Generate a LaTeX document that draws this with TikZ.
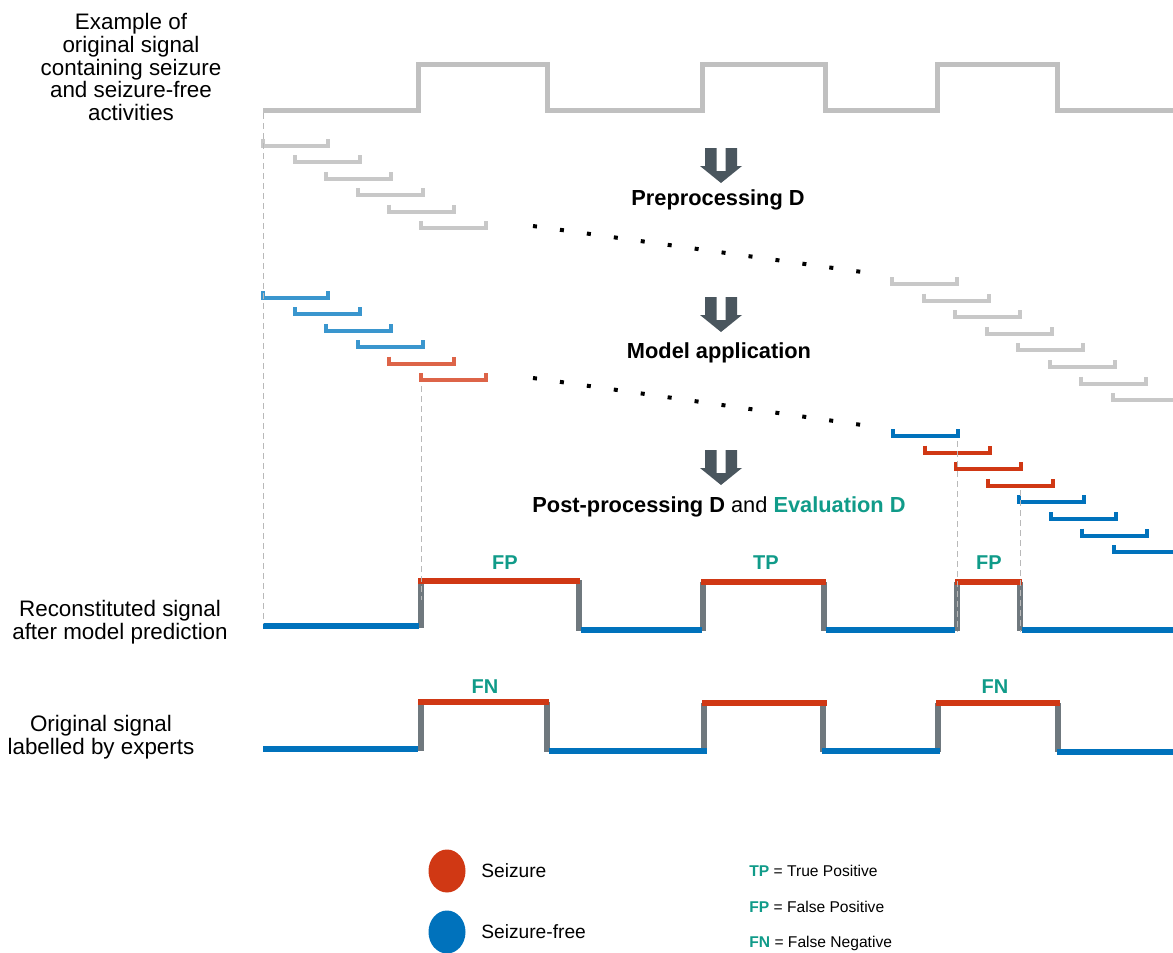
\documentclass[tikz,border=0pt]{standalone}
\usepackage{fontspec}
\setmainfont{Liberation Sans}
\usetikzlibrary{positioning, shapes.geometric}
\definecolor{sigGray}{RGB}{192,192,192}
\definecolor{winGray}{RGB}{200,200,200}
\definecolor{szRed}{RGB}{208,56,20}
\definecolor{sfBlue}{RGB}{0,114,188}
\definecolor{szRedL}{RGB}{221,100,72}
\definecolor{sfBlueL}{RGB}{58,150,206}
\definecolor{edgeGray}{RGB}{111,120,126}
\definecolor{arrowSlate}{RGB}{74,86,94}
\definecolor{evalTeal}{RGB}{16,155,137}

\begin{document}
\begin{tikzpicture}[
  x=0.5pt, y=-0.5pt,
  sidelbl/.style={align=center, font=\fontsize{11.2}{11.4}\selectfont},
  stagelbl/.style={font=\fontsize{10.9}{13}\selectfont\bfseries},
  outcome/.style={font=\fontsize{10}{12}\selectfont\bfseries, text=evalTeal},
  keytxt/.style={inner sep=0pt, font=\fontsize{9.6}{11}\selectfont},
  keylbl/.style={anchor=west, inner sep=0pt, font=\fontsize{7.8}{9}\selectfont},
  win/.style={draw=#1, line width=2pt},
  level/.style={draw=#1, line width=3pt},
  edge/.style={draw=edgeGray, line width=3pt},
  guide/.style={draw=gray!55, line width=0.5pt, dash pattern=on 3pt off 2pt},
  dots/.style={draw=black, line width=2pt, dash pattern=on 2pt off 11.6pt},
  dot/.style={ellipse, fill=#1, minimum width=18.5pt, minimum height=21.5pt, inner sep=0pt},
  pics/bigarrow/.style={code={
    \fill[arrowSlate] (-16,0) -- (-4.5,0) -- (-4.5,23) -- (4.5,23) -- (4.5,0) -- (16,0)
      -- (16,18) -- (21,18) -- (0,35) -- (-21,18) -- (-16,18) -- cycle;
  }}
]
\useasboundingbox (0,0) rectangle (1173,953);
\clip (0,0) rectangle (1173,953);

\node[sidelbl] (origtxt) at (131,67) {Example of\\original signal\\containing seizure\\and seizure-free\\activities};
\node[sidelbl] (predtxt) at (120,622) {Reconstituted signal\\after model prediction};
\node[sidelbl] (exptxt) at (101,737) {Original signal\\labelled by experts};

\draw[level=sigGray, line width=2.5pt] (263,110) -- (418,110) -- (418,64) -- (547,64) -- (547,110)
  -- (702,110) -- (702,64) -- (825,64) -- (825,110) -- (937,110) -- (937,64) -- (1057,64)
  -- (1057,110) -- (1173,110);

\foreach \i in {0,...,5}
  \draw[win=winGray] (263+31.5*\i,139+16.4*\i) -- ++(0,7) -- ++(65,0) -- ++(0,-7);
\foreach \i in {0,...,7}
  \draw[win=winGray] (892+31.5*\i,277+16.6*\i) -- ++(0,7) -- ++(65,0) -- ++(0,-7);
\foreach \c [count=\i from 0] in {sfBlueL,sfBlueL,sfBlueL,sfBlueL,szRedL,szRedL}
  \draw[win=\c] (263+31.5*\i,291+16.4*\i) -- ++(0,7) -- ++(65,0) -- ++(0,-7);
\foreach \c [count=\i from 0] in {sfBlue,szRed,szRed,szRed,sfBlue,sfBlue,sfBlue,sfBlue}
  \draw[win=\c] (893+31.5*\i,429+16.6*\i) -- ++(0,7) -- ++(65,0) -- ++(0,-7);

\draw[dots] (533,226) -- (862,272);
\draw[dots] (533,378) -- (862,425);

\pic at (721,148) {bigarrow};
\pic at (721,297) {bigarrow};
\pic at (721,450) {bigarrow};
\node[stagelbl] (prep) at (718,200) {Preprocessing D};
\node[stagelbl] (model) at (719,353) {Model application};
\node[stagelbl] (post) at (719,507) {Post-processing D \mdseries and \bfseries\textcolor{evalTeal}{Evaluation D}};

\foreach \x/\t/\b in {421/580/628, 579/580/631, 703/582/631, 824/582/631, 957/582/631, 1020/582/631,
  421/702/751, 547/702/752, 704/703/752, 823/703/752, 938/703/752, 1058/703/752}
  \draw[edge] (\x,\t) -- (\x,\b);
\foreach \a/\b/\y in {263/419/626, 581/702/630, 826/955/630, 1022/1173/630,
  263/418/749, 549/707/751, 822/940/751, 1057/1173/752}
  \draw[level=sfBlue] (\a,\y) -- (\b,\y);
\foreach \a/\b/\y in {418/580/581, 701/826/582, 955/1022/582, 418/549/702, 702/827/703, 936/1060/703}
  \draw[level=szRed] (\a,\y) -- (\b,\y);

\draw[guide] (263,113) -- (263,624);
\draw[guide] (421,386) -- (421,600);
\draw[guide] (957,441) -- (957,632);
\draw[guide] (1020,490) -- (1020,632);

\node[outcome] (fp1) at (505,563) {FP};
\node[outcome] (tp1) at (766,563) {TP};
\node[outcome] (fp2) at (989,563) {FP};
\node[outcome] (fn1) at (485,687) {FN};
\node[outcome] (fn2) at (995,687) {FN};

\node[dot=szRed] (szdot) at (447,871) {};
\node[dot=sfBlue] (sfdot) at (447,932) {};
\node[keytxt, right=7.5pt of szdot] (sztxt) {Seizure};
\node[keytxt, right=7.5pt of sfdot] (sftxt) {Seizure-free};

\node[keylbl] (tpkey) at (749,871) {\textcolor{evalTeal}{\bfseries TP} = True Positive};
\node[keylbl] (fpkey) at (749,907) {\textcolor{evalTeal}{\bfseries FP} = False Positive};
\node[keylbl] (fnkey) at (749,943) {\textcolor{evalTeal}{\bfseries FN} = False Negative};
\end{tikzpicture}
\end{document}
